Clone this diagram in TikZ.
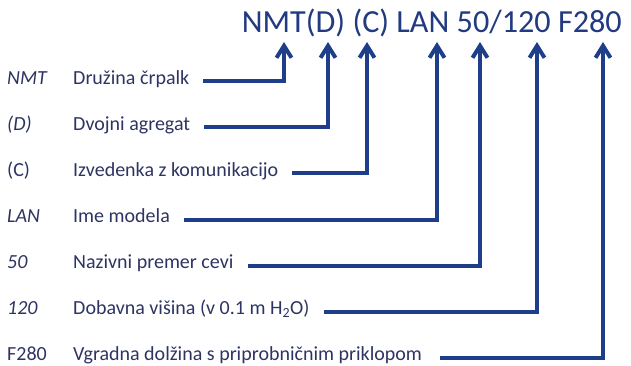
\documentclass[tikz,border=0pt]{standalone}
\usepackage{fontspec}
\setmainfont{Carlito}
\usepackage{xcolor}
\usepackage{tikz}
\usetikzlibrary{arrows.meta}
\usetikzlibrary{calc}

\definecolor{codeblue}{RGB}{33,58,128}
\definecolor{textnavy}{RGB}{45,52,98}
\definecolor{lineblue}{RGB}{31,62,137}

\begin{document}
\begin{tikzpicture}[x=1pt,y=-1pt,
	code/.style={anchor=base west,inner sep=0pt,text=textnavy,font=\fontsize{20}{24}\selectfont},
	desc/.style={anchor=base west,inner sep=0pt,text=textnavy,font=\fontsize{20}{24}\selectfont},
	conn/.style={draw=lineblue,line width=4pt,line join=miter,-{Straight Barb[length=12pt,width=15pt,line width=4pt]}}]
	\useasboundingbox (0,0) rectangle (631,366);
	% type designation
	\node[anchor=base east,inner sep=0pt,text=codeblue,font=\fontsize{32.2}{36}\selectfont] (title) at (622,33) {NMT(D) (C) LAN 50/120 F280};
	\coordinate (tNMT) at (284,42);
	\coordinate (tD) at (328,42);
	\coordinate (tC) at (367,42);
	\coordinate (tLAN) at (437,42);
	\coordinate (t50) at (480,42);
	\coordinate (t120) at (537,42);
	\coordinate (tF) at (603,42);
	% codes
	\node[code] (cNMT) at (7,84.5) {\itshape NMT};
	\node[code] (cD) at (7,130.5) {\itshape (D)};
	\node[code] (cC) at (7,176.5) {(C)};
	\node[code] (cLAN) at (7,222.5) {\itshape LAN};
	\node[code] (c50) at (7,268.5) {\itshape 50};
	\node[code] (c120) at (7,314.5) {\itshape 120};
	\node[code] (cF) at (7,360.5) {F280};
	% descriptions
	\node[desc] (dNMT) at (73,84.5) {Družina črpalk};
	\node[desc] (dD) at (73,130.5) {Dvojni agregat};
	\node[desc] (dC) at (73,176.5) {Izvedenka z komunikacijo};
	\node[desc] (dLAN) at (73,222.5) {Ime modela};
	\node[desc] (d50) at (73,268.5) {Nazivni premer cevi};
	\node[desc] (d120) at (73,314.5) {Dobavna višina (v 0.1 m H\textsubscript{2}O)};
	\node[desc] (dF) at (73,360.5) {Vgradna dolžina s priprobničnim priklopom};
	% connectors
	\draw[conn] ([xshift=14pt,yshift=3pt]dNMT.base east) -| (tNMT);
	\draw[conn] ([xshift=14pt,yshift=3pt]dD.base east) -| (tD);
	\draw[conn] ([xshift=14pt,yshift=3pt]dC.base east) -| (tC);
	\draw[conn] ([xshift=14pt,yshift=3pt]dLAN.base east) -| (tLAN);
	\draw[conn] ([xshift=14pt,yshift=3pt]d50.base east) -| (t50);
	\draw[conn] ([xshift=14pt,yshift=3pt]d120.base east) -| (t120);
	\draw[conn] ([xshift=18pt,yshift=3pt]dF.base east) -| (tF);
\end{tikzpicture}
\end{document}
